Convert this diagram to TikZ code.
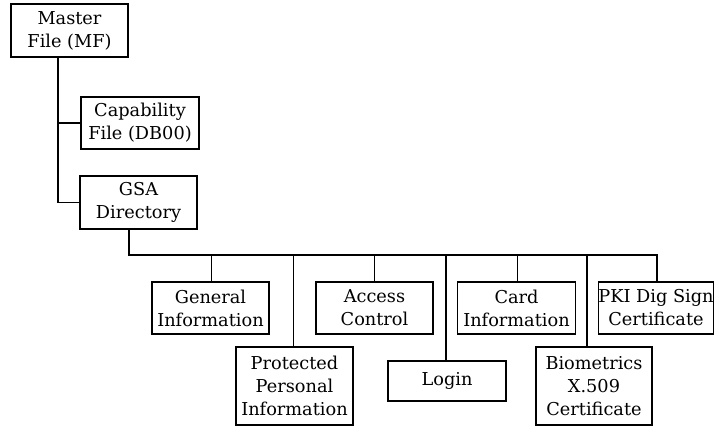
\documentclass[tikz,border=0pt]{standalone}
\usepackage{fontspec}
\setmainfont{DejaVu Serif}
\begin{document}
\begin{tikzpicture}[x=0.75pt,y=-0.75pt,
  box/.style={draw,line width=0.8pt,align=center,inner sep=0pt,
    font=\fontsize{13.3}{17.3}\selectfont,minimum height=#1*0.75pt},
  box/.default=53,
  conn/.style={line width=0.8pt}]
\useasboundingbox (0,0) rectangle (715,427);
\node[box,minimum width=117*0.75pt] (mf) at (69.5,30.5) {Master\\File (MF)};
\node[box=52,minimum width=118*0.75pt] (cap) at (140,123) {Capability\\File (DB00)};
\node[box,minimum width=117*0.75pt] (gsa) at (138.5,202.5) {GSA\\Directory};
\node[box=52,minimum width=117*0.75pt] (gen) at (210.5,308) {General\\Information};
\node[box=78,minimum width=117*0.75pt] (prot) at (294.5,386) {Protected\\Personal\\Information};
\node[box=52,minimum width=117*0.75pt] (acc) at (374.5,308) {Access\\Control};
\node[box=40,minimum width=118*0.75pt] (login) at (447,381) {Login};
\node[box=52,minimum width=118*0.75pt] (card) at (516.5,308) {Card\\Information};
\node[box=78,minimum width=116*0.75pt] (bio) at (594,386) {Biometrics\\X.509\\Certificate};
\node[box=52,minimum width=115*0.75pt] (pki) at (656,308) {PKI Dig Sign\\Certificate};
\coordinate (trunk) at (58,57);
\coordinate (busL) at (129,255);
\coordinate (busR) at (657,255);
\draw[conn] (trunk) |- (gsa.west);
\draw[conn] (trunk |- cap.west) -- (cap.west);
\draw[conn] (gsa.south -| busL) -- (busL) -- (busR) -- (busR |- pki.north);
\draw[conn] ([xshift=0.4pt]gen.north) -- ([xshift=0.4pt]gen.north |- busL);
\draw[conn] ([xshift=-1.1pt]prot.north) -- ([xshift=-1.1pt]prot.north |- busL);
\draw[conn] (acc.north) -- (acc.north |- busL);
\draw[conn] ([xshift=-0.75pt]login.north) -- ([xshift=-0.75pt]login.north |- busL);
\draw[conn] ([xshift=0.4pt]card.north) -- ([xshift=0.4pt]card.north |- busL);
\draw[conn] ([xshift=-5.25pt]bio.north) -- ([xshift=-5.25pt]bio.north |- busL);
\end{tikzpicture}
\end{document}
